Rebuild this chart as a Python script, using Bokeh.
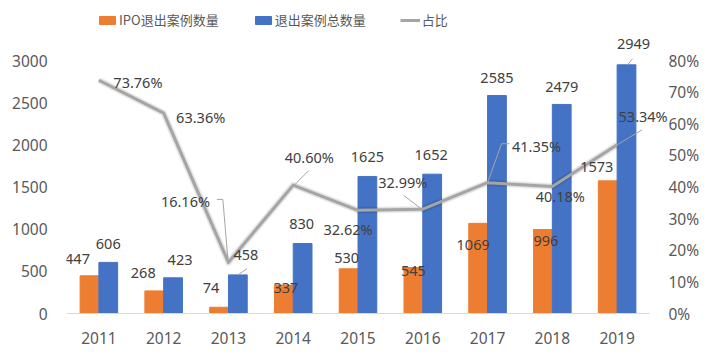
from bokeh.plotting import figure
from bokeh.models import (ColumnDataSource, Range1d, LinearAxis, FixedTicker,
                          PrintfTickFormatter, Legend, LegendItem, LabelSet, Label)
from bokeh.core.properties import value
from bokeh.embed import file_html
from bokeh.resources import INLINE

# ---------------- data ----------------
years = ["2011", "2012", "2013", "2014", "2015", "2016", "2017", "2018", "2019"]
ipo_exits = [447, 268, 74, 337, 530, 545, 1069, 996, 1573]
total_exits = [606, 423, 458, 830, 1625, 1652, 2585, 2479, 2949]
ratio_pct = [73.76, 63.36, 16.16, 40.60, 32.62, 32.99, 41.35, 40.18, 53.34]
left_ticks = [0, 500, 1000, 1500, 2000, 2500, 3000]
right_ticks = [0, 10, 20, 30, 40, 50, 60, 70, 80]

# ---------------- layout / style ----------------
W, H = 713, 356
BL, BR, BT, BB = 66, 41, 0, 43
FW, FH = W - BL - BR, H - BT - BB
CAT_PX = 583.0 / 9                      # pixels per category
AXIS_PX = 253.0                         # pixels between 0 and 3000 / 0% and 80%
X_END = -0.5 + FW / CAT_PX
Y_END = 3000 * FH / AXIS_PX
P_END = 80 * FH / AXIS_PX
BAR_W = 0.29
DODGE = 0.145
ORANGE, BLUE, GREY = "#ED7D31", "#4472C4", "#A5A5A5"
TXT = "#404040"
AX = "#595959"

# label offsets in screen pixels (x right, y down)
ipo_lbl_dx = [-12, -11, -8, 2, -2, 0, -5, 3, -11]
ipo_lbl_dy = [-17, -18, -19, 3, -11, 3, 22, 11, -14]
tot_lbl_dx = [0, 7, 8, -1, 0, -1, 0, 0, 7]
tot_lbl_dy = [-18, -18, -20, -20, -19, -19, -17, -17, -21]
pct_lbl_dx = [39, 37, -43, 16, -10, -20, 49, 8, 26]
pct_lbl_dy = [2, 4, -61, -28, 19, -27, -37, 10, -29]
# leader lines: (index, series, [(dx, dy), ...]) in pixels relative to anchor
leaders = [
    (2, "pct", [(-11.6, -63), (-5.6, -63), (-0.6, -4)]),
    (3, "pct", [(1, 0), (15.6, -14.6)]),
    (5, "pct", [(-19, -13.7), (-2, -0.7)]),
    (6, "pct", [(0, 0), (14, -39), (22, -39)]),
    (8, "pct", [(0, 0), (25, -15)]),
    (8, "tot", [(1, 0), (6, -6)]),
    (2, "tot", [(0, 0), (9, -6)]),
]

xs = list(range(len(years)))

p = figure(width=W, height=H, output_backend="svg", toolbar_location=None,
           x_range=Range1d(-0.5, X_END), y_range=Range1d(0, Y_END),
           min_border_left=BL, min_border_right=BR, min_border_top=BT,
           min_border_bottom=BB, outline_line_color=None)
p.extra_y_ranges = {"pct": Range1d(0, P_END)}
p.xgrid.visible = False
p.ygrid.visible = False
p.background_fill_color = "white"
p.border_fill_color = "white"

src = ColumnDataSource(dict(
    x=xs, year=years, ipo=ipo_exits, tot=total_exits, pct=ratio_pct,
    x_ipo=[x - DODGE for x in xs], x_tot=[x + DODGE for x in xs],
    ipo_txt=[str(v) for v in ipo_exits], tot_txt=[str(v) for v in total_exits],
    ipo_dx=ipo_lbl_dx, ipo_dy=[-d for d in ipo_lbl_dy],
    tot_dx=tot_lbl_dx, tot_dy=[-d for d in tot_lbl_dy],
))

r_ipo = p.vbar(x="x_ipo", top="ipo", width=BAR_W, color=ORANGE, source=src)
r_tot = p.vbar(x="x_tot", top="tot", width=BAR_W, color=BLUE, source=src)

# line with soft shadow
p.line(x="x", y="pct", y_range_name="pct", source=src, line_width=7,
       line_color="black", line_alpha=0.06, line_join="round")
p.line(x="x", y="pct", y_range_name="pct", source=src, line_width=5,
       line_color="black", line_alpha=0.07, line_join="round")
r_line = p.line(x="x", y="pct", y_range_name="pct", source=src, line_width=3,
                line_color=GREY, line_join="round")

# leader lines (pixel offsets converted through the ranges' scale)
ux = 1.0 / CAT_PX
uy_l = Y_END / FH
uy_p = P_END / FH
lx, ly, px_, py_ = [], [], [], []
for i, ser, pts in leaders:
    if ser == "pct":
        px_.append([xs[i] + dx * ux for dx, dy in pts])
        py_.append([ratio_pct[i] - dy * uy_p for dx, dy in pts])
    else:
        lx.append([xs[i] + DODGE + dx * ux for dx, dy in pts])
        ly.append([total_exits[i] - dy * uy_l for dx, dy in pts])
p.multi_line(xs=px_, ys=py_, y_range_name="pct", line_color=GREY, line_width=1)
p.multi_line(xs=lx, ys=ly, line_color=GREY, line_width=1)

common = dict(text_font=value("Noto Sans"), text_font_size=value("14.5px"),
              text_color=TXT, text_align="center", text_baseline="middle",
              source=src)
p.add_layout(LabelSet(x="x_ipo", y="ipo", text="ipo_txt", x_offset="ipo_dx",
                      y_offset="ipo_dy", **common))
p.add_layout(LabelSet(x="x_tot", y="tot", text="tot_txt", x_offset="tot_dx",
                      y_offset="tot_dy", **common))
for i, v in enumerate(ratio_pct):
    p.add_layout(Label(x=xs[i], y=v, text="%.2f%%" % v, y_range_name="pct",
                       x_offset=pct_lbl_dx[i], y_offset=-pct_lbl_dy[i],
                       text_font="Noto Sans", text_font_size="14.5px",
                       text_color=TXT, text_align="center",
                       text_baseline="middle"))

# axes
p.xaxis.ticker = FixedTicker(ticks=xs)
p.xaxis.bounds = (-0.5, len(years) - 0.5)
p.xaxis.major_label_overrides = {i: y for i, y in enumerate(years)}
p.xaxis.axis_line_color = "#D9D9D9"
p.xaxis.major_tick_line_color = None
p.xaxis.minor_tick_line_color = None
p.xaxis.major_label_text_font = "Noto Sans"
p.xaxis.major_label_text_font_size = "15.5px"
p.xaxis.major_label_text_color = AX
p.xaxis.major_label_standoff = 12

p.yaxis.ticker = FixedTicker(ticks=left_ticks)
p.yaxis.axis_line_color = None
p.yaxis.major_tick_line_color = None
p.yaxis.minor_tick_line_color = None
p.yaxis.major_label_text_font = "Noto Sans"
p.yaxis.major_label_text_font_size = "15.5px"
p.yaxis.major_label_text_color = AX
p.yaxis.major_label_standoff = 13

ry = LinearAxis(y_range_name="pct", ticker=FixedTicker(ticks=right_ticks),
                formatter=PrintfTickFormatter(format="%d%%"))
ry.axis_line_color = None
ry.major_tick_line_color = None
ry.minor_tick_line_color = None
ry.major_label_text_font = "Noto Sans"
ry.major_label_text_font_size = "15.5px"
ry.major_label_text_color = AX
ry.major_label_standoff = -10
ry.major_label_text_align = "left"
p.add_layout(ry, "right")

legend = Legend(items=[
    LegendItem(label="IPO退出案例数量", renderers=[r_ipo]),
    LegendItem(label="退出案例总数量", renderers=[r_tot]),
    LegendItem(label="占比", renderers=[r_line]),
], orientation="horizontal", location=(31, 284), padding=0, margin=0,
    spacing=34, label_standoff=2, glyph_width=20, glyph_height=10,
    border_line_color=None, background_fill_alpha=0,
    label_text_font="Noto Sans CJK SC", label_text_font_size="13px",
    label_text_color=AX)
p.add_layout(legend)

open("out.html", "w").write(file_html(p, INLINE))
